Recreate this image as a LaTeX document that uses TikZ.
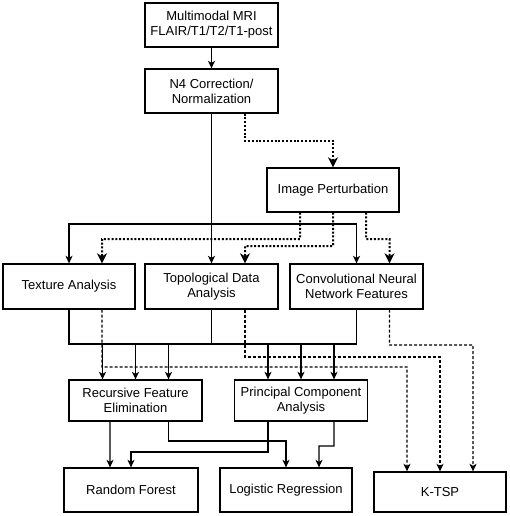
\documentclass[tikz,border=0pt]{standalone}
\usepackage{fontspec}
\setmainfont{Liberation Sans}
\usetikzlibrary{arrows.meta}
\tikzset{
  box/.style={draw, line width=1.3bp, fill=white, align=center, inner sep=0pt,
    font=\fontsize{13bp}{15bp}\selectfont},
  ln/.style={line width=1.3bp},
  arr/.style={ln, -{Stealth[length=7.5bp,width=7bp,inset=2bp]}},
  dotarr/.style={line width=2bp, dash pattern=on 2bp off 1.8bp,
    -{Stealth[length=10bp,width=10bp,inset=3bp]}},
  dasharr/.style={line width=1.2bp, dash pattern=on 3bp off 2bp,
    -{Stealth[length=7.5bp,width=7bp,inset=2bp]}},
}
\begin{document}
\begin{tikzpicture}[x=1bp,y=-1bp]
\useasboundingbox (0,0) rectangle (510,516);
% nodes
\node[box, minimum width=133bp, minimum height=44bp] (mri) at (211.5,25) {Multimodal MRI\\FLAIR/T1/T2/T1-post};
\node[box, minimum width=133bp, minimum height=44bp] (n4) at (211.5,91) {N4 Correction/\\Normalization};
\node[box, minimum width=132bp, minimum height=44bp] (ip) at (333,190) {Image Perturbation};
\node[box, minimum width=132bp, minimum height=45bp] (tex) at (69,286.5) {Texture Analysis};
\node[box, minimum width=133bp, minimum height=45bp] (tda) at (211.5,286.5) {Topological Data\\Analysis};
\node[box, minimum width=133bp, minimum height=45bp] (cnn) at (356.5,286.5) {Convolutional Neural\\Network Features};
\node[box, minimum width=133bp, minimum height=41bp] (rfe) at (135.5,400.5) {Recursive Feature\\Elimination};
\node[box, minimum width=133bp, minimum height=41bp] (pca) at (301,400.5) {Principal Component\\Analysis};
\node[box, minimum width=134bp, minimum height=44bp] (rf) at (131,490) {Random Forest};
\node[box, minimum width=132bp, minimum height=44bp] (lr) at (286,490) {Logistic Regression};
\node[box, minimum width=132bp, minimum height=40bp] (ktsp) at (440,492) {K-TSP};
% top
\draw[arr] (mri.south) -- (n4.north);
\draw[arr] (n4.south) -- (tda.north);
\coordinate (br) at (211.5,224);
\draw[arr] (br) -| (tex.north);
\draw[arr] (br) -| (cnn.north);
\draw[dotarr] ([xshift=33.5bp]n4.south) |- (333,141) -- (ip.north);
\draw[dotarr] ([xshift=-33bp]ip.south) |- (102,239) -- ([xshift=33bp]tex.north);
\draw[dotarr] (ip.south) |- (245,246) -- ([xshift=33.5bp]tda.north);
\draw[dotarr] ([xshift=33bp]ip.south) |- (389.5,239) -- ([xshift=33bp]cnn.north);
% dashed to K-TSP
\draw[dasharr] ([xshift=33bp]tex.south) |- (407,367) -- ([xshift=-33bp]ktsp.north);
\draw[dasharr] ([xshift=33.5bp]tda.south) |- (440,357) -- (ktsp.north);
\draw[dasharr] ([xshift=33bp]cnn.south) |- (473,345) -- ([xshift=33bp]ktsp.north);
% bus
\coordinate (bus) at (0,344);
\draw[ln] (tex.south) |- (cnn.south |- bus) -- (cnn.south);
\draw[ln] (tda.south) -- (tda.south |- bus);
\draw[arr] ([xshift=-33bp]rfe.north |- bus) -- ([xshift=-33bp]rfe.north);
\draw[arr] (rfe.north |- bus) -- (rfe.north);
\draw[arr] ([xshift=33bp]rfe.north |- bus) -- ([xshift=33bp]rfe.north);
\draw[arr] ([xshift=-33bp]pca.north |- bus) -- ([xshift=-33bp]pca.north);
\draw[arr] (pca.north |- bus) -- (pca.north);
\draw[arr] ([xshift=33bp]pca.north |- bus) -- ([xshift=33bp]pca.north);
% bottom
\draw[arr] ([xshift=-25.5bp]rfe.south) -- ([xshift=-21bp]rf.north);
\draw[arr] ([xshift=33bp]rfe.south) |- (286,441) -- (lr.north);
\draw[arr] ([xshift=-33bp]pca.south) |- (131,452) -- (rf.north);
\draw[arr] ([xshift=33bp]pca.south) |- (319,446) -- ([xshift=33bp]lr.north);
\end{tikzpicture}
\end{document}
